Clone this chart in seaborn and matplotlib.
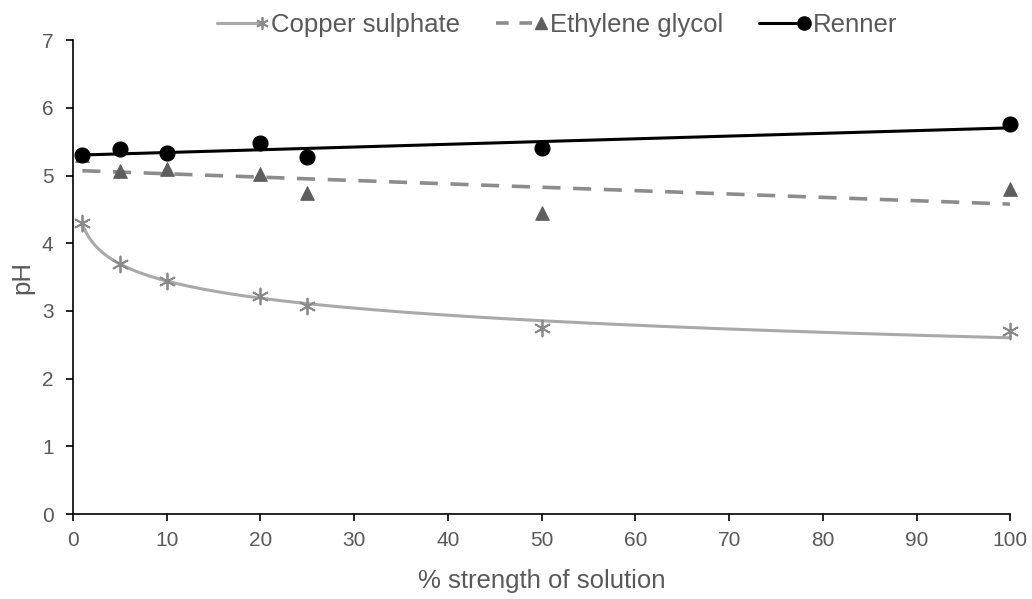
import numpy as np
import pandas as pd
import matplotlib
matplotlib.use("Agg")
import matplotlib.pyplot as plt
from matplotlib.lines import Line2D
from matplotlib.legend_handler import HandlerBase
import seaborn as sns

# Values.
strength = [1, 5, 10, 20, 25, 50, 100]
copper_ph = [4.30, 3.69, 3.44, 3.22, 3.07, 2.75, 2.70]
glycol_ph = [5.31, 5.06, 5.10, 5.02, 4.74, 4.45, 4.80]
renner_ph = [5.31, 5.39, 5.33, 5.48, 5.27, 5.41, 5.76]

sns.set_style("ticks")
plt.rcParams['font.family'] = ['Liberation Sans', 'DejaVu Sans']

fig = plt.figure(figsize=(10.32, 5.99), dpi=100)
ax = fig.add_axes([0.0707, 0.1419, 0.9083, 0.7911])

df = pd.DataFrame({"x": strength, "copper": copper_ph, "glycol": glycol_ph, "renner": renner_ph})

# Trend lines (Excel style): log fit for copper, linear fits for the others.
xs = np.linspace(1, 100, 300)
a, b = np.polyfit(np.log(df["x"]), df["copper"], 1)
trend_copper = pd.DataFrame({"x": xs, "y": a * np.log(xs) + b})
m1, c1 = np.polyfit(df["x"], df["glycol"], 1)
trend_glycol = pd.DataFrame({"x": xs, "y": m1 * xs + c1})
m2, c2 = np.polyfit(df["x"], df["renner"], 1)
trend_renner = pd.DataFrame({"x": xs, "y": m2 * xs + c2})

copper_line = "#A9A9A9"
copper_mark = "#8A8A8A"
glycol_line = "#8C8C8C"
glycol_mark = "#5E5E5E"

sns.lineplot(x="x", y="y", data=trend_copper, color=copper_line, linewidth=2.2, ax=ax)
sns.lineplot(x="x", y="y", data=trend_glycol, color=glycol_line, linewidth=2.6, ax=ax)
ax.lines[-1].set_dashes([5, 3.5])
sns.lineplot(x="x", y="y", data=trend_renner, color="black", linewidth=2.2, ax=ax)

sns.scatterplot(x="x", y="copper", data=df, marker=(6, 2, 0), s=130, color=copper_mark,
                linewidth=1.3, ax=ax, zorder=3, clip_on=False)
sns.scatterplot(x="x", y="glycol", data=df, marker="^", s=95, color=glycol_mark,
                edgecolor=glycol_mark, ax=ax, zorder=3, clip_on=False)
sns.scatterplot(x="x", y="renner", data=df, marker="o", s=115, color="black",
                edgecolor="black", ax=ax, zorder=4, clip_on=False)

ax.set_xlim(0, 100)
ax.set_ylim(0, 7)
ax.set_xticks(range(0, 101, 10))
ax.set_yticks(range(0, 8))
ax.tick_params(axis="both", labelsize=15, labelcolor="#595959", color="black", length=5, width=1.2)
ax.tick_params(axis="x", pad=7)
ax.tick_params(axis="y", pad=9)
ax.set_xlabel("% strength of solution", fontsize=18.5, color="#595959", labelpad=14)
ax.set_ylabel("pH", fontsize=18.5, color="#595959", labelpad=5)
for side in ["left", "bottom"]:
    ax.spines[side].set_color("black")
    ax.spines[side].set_linewidth(1.2)
sns.despine(ax=ax)


# Legend keys with the marker at the right end of the line, as in Excel.
class EndMarker(HandlerBase):
    def create_artists(self, legend, orig_handle, xdescent, ydescent, width, height, fontsize, trans):
        y = height / 2 - ydescent
        line = Line2D([-xdescent, width - xdescent], [y, y])
        line.update_from(orig_handle)
        line.set_marker("None")
        mark = Line2D([width - xdescent], [y])
        mark.update_from(orig_handle)
        mark.set_linestyle("None")
        line.set_transform(trans)
        mark.set_transform(trans)
        return [line, mark]


handles = [
    Line2D([], [], color=copper_line, linewidth=2.2, marker=(6, 2, 0), markersize=9,
           markeredgecolor=copper_mark, markeredgewidth=1.3),
    Line2D([], [], color=glycol_line, linewidth=2.6, dashes=[3.5, 3], marker="^", markersize=8,
           markerfacecolor=glycol_mark, markeredgecolor=glycol_mark),
    Line2D([], [], color="black", linewidth=2.2, marker="o", markersize=9.5,
           markerfacecolor="black"),
]
fig.legend(handles, ["Copper sulphate", "Ethylene glycol", "Renner"], loc="center",
           bbox_to_anchor=(0.54, 0.958), ncol=3, frameon=False, fontsize=18.5,
           handlelength=1.75, handletextpad=0.35, columnspacing=1.4,
           handler_map={Line2D: EndMarker()}, labelcolor="#595959")

fig.savefig("out.png", dpi=100)
